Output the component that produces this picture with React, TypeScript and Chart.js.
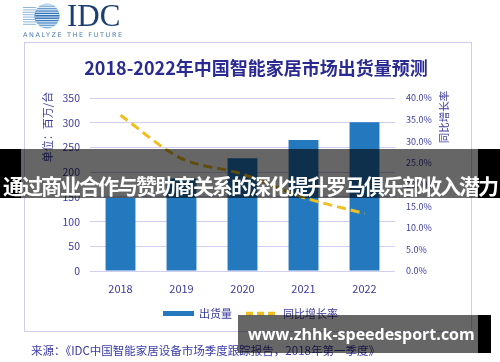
import React, { useEffect, useRef } from 'react';
import { Chart, registerables } from 'chart.js';

Chart.register(...registerables);

const years = ['2018', '2019', '2020', '2021', '2022'];
const shipments = [148, 187, 228, 265, 301];
const growthRate = [36.0, 26.0, 22.4, 17.0, 13.3];

const titleText = '2018-2022年中国智能家居市场出货量预测';
const leftAxisTitle = '单位：百万/台';
const rightAxisTitle = '同比增长率';
const barLabel = '出货量';
const lineLabel = '同比增长率';
const sourceText = '来源：《IDC中国智能家居设备市场季度跟踪报告，2018年第一季度》';
const bannerText = '通过商业合作与赞助商关系的深化提升罗马俱乐部收入潜力';
const watermarkText = 'www.zhhk-speedesport.com';

const CJK = '"Noto Sans CJK SC", "Noto Sans", sans-serif';
const AXIS_COLOR = '#3B3B9F';
const TITLE_COLOR = '#2A2A92';
const GRID_COLOR = '#D2CEF3';
const BAR_COLOR = '#2479BE';
const LINE_COLOR = '#F0BE1E';

const decoPlugin = {
  id: 'deco',
  beforeDraw(chart: any) {
    const ctx = chart.ctx as CanvasRenderingContext2D;
    ctx.save();
    ctx.fillStyle = '#ffffff';
    ctx.fillRect(0, 0, chart.width, chart.height);

    // frame
    ctx.strokeStyle = '#CFCCF0';
    ctx.lineWidth = 1;
    ctx.strokeRect(24.5, 42.5, 447, 289);

    // logo globe
    ctx.save();
    ctx.beginPath();
    ctx.arc(47, 16, 12.5, 0, Math.PI * 2);
    ctx.clip();
    const g = ctx.createLinearGradient(0, 3, 0, 29);
    g.addColorStop(0, '#9CC8EA');
    g.addColorStop(0.5, '#1E64AE');
    g.addColorStop(1, '#7DB4E0');
    ctx.fillStyle = g;
    ctx.fillRect(30, 3, 34, 26);
    ctx.strokeStyle = '#ffffff';
    ctx.lineWidth = 0.9;
    for (let y = 5; y < 29; y += 2.4) {
      ctx.beginPath();
      ctx.moveTo(30, y);
      ctx.lineTo(64, y);
      ctx.stroke();
    }
    ctx.restore();
    ctx.strokeStyle = '#8DB6DA';
    ctx.lineWidth = 1;
    for (let i = 0; i < 8; i++) {
      const y = 7 + i * 2.4;
      ctx.beginPath();
      ctx.moveTo(23, y + 0.5);
      ctx.lineTo(36, y + 0.5);
      ctx.stroke();
    }
    ctx.fillStyle = '#1B3F72';
    ctx.font = '31px "Liberation Serif", serif';
    ctx.textAlign = 'left';
    ctx.textBaseline = 'alphabetic';
    ctx.fillText('IDC', 67, 26);
    ctx.fillStyle = '#4C7DB3';
    ctx.font = '6.5px "DejaVu Sans", sans-serif';
    (ctx as any).letterSpacing = '1.6px';
    ctx.fillText('ANALYZE THE FUTURE', 23, 36.5);
    (ctx as any).letterSpacing = '0px';

    // title
    ctx.fillStyle = TITLE_COLOR;
    ctx.font = 'bold 18px ' + CJK;
    ctx.textAlign = 'center';
    ctx.textBaseline = 'middle';
    ctx.fillText(titleText, 256, 68.5);
    ctx.restore();
  },
  afterDraw(chart: any) {
    const ctx = chart.ctx as CanvasRenderingContext2D;
    ctx.save();
    ctx.fillStyle = AXIS_COLOR;
    ctx.textBaseline = 'middle';
    ctx.textAlign = 'center';

    // axis titles
    ctx.font = '11px ' + CJK;
    ctx.save();
    ctx.translate(48, 127);
    ctx.rotate(-Math.PI / 2);
    ctx.fillText(leftAxisTitle, 0, 0);
    ctx.restore();
    ctx.save();
    ctx.translate(444, 117);
    ctx.rotate(-Math.PI / 2);
    ctx.font = '10.5px ' + CJK;
    ctx.fillText(rightAxisTitle, 0, 0);
    ctx.restore();

    // legend
    ctx.fillStyle = BAR_COLOR;
    ctx.fillRect(163, 311, 31, 5);
    ctx.strokeStyle = LINE_COLOR;
    ctx.lineWidth = 3.5;
    ctx.setLineDash([7, 4]);
    ctx.beginPath();
    ctx.moveTo(246, 313.5);
    ctx.lineTo(277, 313.5);
    ctx.stroke();
    ctx.setLineDash([]);
    ctx.fillStyle = AXIS_COLOR;
    ctx.font = '11px ' + CJK;
    ctx.textAlign = 'left';
    ctx.fillText(barLabel, 199, 314);
    ctx.fillText(lineLabel, 283, 314);

    // source
    ctx.fillStyle = '#3A3AAA';
    ctx.font = '11.5px ' + CJK;
    ctx.fillText(sourceText, 31, 351);
    ctx.restore();
  },
};

export default function App() {
  const canvasRef = useRef<HTMLCanvasElement | null>(null);

  useEffect(() => {
    const canvas = canvasRef.current;
    if (!canvas) return;
    const chart = new Chart(canvas, {
      type: 'bar',
      data: {
        labels: years,
        datasets: [
          {
            type: 'line',
            label: lineLabel,
            data: growthRate,
            yAxisID: 'y1',
            borderColor: LINE_COLOR,
            backgroundColor: LINE_COLOR,
            borderWidth: 3,
            borderDash: [9, 5],
            borderCapStyle: 'butt',
            pointRadius: 0,
            tension: 0.3,
            fill: false,
            order: 0,
          } as any,
          {
            type: 'bar',
            label: barLabel,
            data: shipments,
            yAxisID: 'y',
            backgroundColor: BAR_COLOR,
            borderWidth: 0,
            barPercentage: 0.49,
            categoryPercentage: 1,
            order: 1,
          } as any,
        ],
      },
      options: {
        animation: false,
        responsive: false,
        devicePixelRatio: 1,
        layout: { padding: { left: 50, right: 55, top: 98, bottom: 66 } },
        plugins: {
          legend: { display: false },
          tooltip: { enabled: false },
          title: { display: false },
        },
        scales: {
          x: {
            grid: { display: false },
            border: { display: false },
            ticks: { color: AXIS_COLOR, font: { family: CJK, size: 11 }, padding: 3 },
            afterFit: (s: any) => { s.height = 25; },
          },
          y: {
            position: 'left',
            min: 0,
            max: 350,
            ticks: { stepSize: 50, color: AXIS_COLOR, font: { family: CJK, size: 10.5 }, padding: 10 },
            grid: { color: GRID_COLOR, lineWidth: 1, drawTicks: false },
            border: { display: false },
            afterFit: (s: any) => { s.width = 40; },
          },
          y1: {
            position: 'right',
            min: 0,
            max: 40,
            ticks: {
              stepSize: 5,
              color: AXIS_COLOR,
              font: { family: CJK, size: 9 },
              padding: 11,
              callback: (v: any) => Number(v).toFixed(1) + '%',
            },
            grid: { display: false, drawTicks: false },
            border: { display: false },
            afterFit: (s: any) => { s.width = 50; },
          },
        },
      },
      plugins: [decoPlugin],
    });
    return () => chart.destroy();
  }, []);

  return (
    <div style={{ position: 'fixed', left: 0, top: 0, width: 500, height: 362, background: '#fff', overflow: 'hidden' }}>
      <canvas ref={canvasRef} width={500} height={362} style={{ position: 'absolute', left: 0, top: 0, width: 500, height: 362 }} />
      {/* banner overlay */}
      <div style={{ position: 'absolute', left: 0, top: 149, width: 21, height: 49, background: '#000' }} />
      <div style={{ position: 'absolute', left: 21, top: 149, width: 457, height: 49, background: 'rgba(0,0,0,0.6)' }} />
      <div style={{ position: 'absolute', left: 478, top: 149, width: 22, height: 49, background: '#000' }} />
      <div
        style={{
          position: 'absolute', left: 0, top: 173, width: 500, height: 24, lineHeight: '24px',
          textAlign: 'center', color: '#fff', fontWeight: 700, fontSize: 21, letterSpacing: '-2px',
          fontFamily: CJK, whiteSpace: 'nowrap',
        }}
      >
        {bannerText}
      </div>
      {/* watermark */}
      <div style={{ position: 'absolute', left: 238, top: 315, width: 240, height: 38, background: 'rgba(0,0,0,0.6)' }} />
      <div style={{ position: 'absolute', left: 478, top: 315, width: 13, height: 38, background: '#000' }} />
      <div
        style={{
          position: 'absolute', left: 248, top: 323, height: 22, lineHeight: '22px', color: '#fff',
          fontWeight: 700, fontSize: 16, fontFamily: '"Open Sans", sans-serif', whiteSpace: 'nowrap',
        }}
      >
        {watermarkText}
      </div>
    </div>
  );
}
